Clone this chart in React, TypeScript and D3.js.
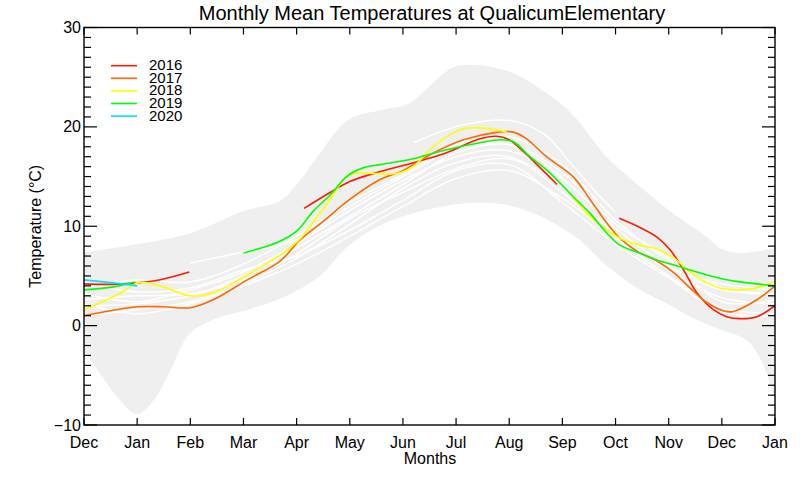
import React from 'react';
import * as d3 from 'd3';

type P = [number, number];

const monthLabels = ['Dec', 'Jan', 'Feb', 'Mar', 'Apr', 'May', 'Jun', 'Jul', 'Aug', 'Sep', 'Oct', 'Nov', 'Dec', 'Jan'];
const yMajorTicks = [-10, 0, 10, 20, 30];
const legendYears = ['2016', '2017', '2018', '2019', '2020'];
const legendColors = ['#ff1a00', '#ff6a00', '#ffff00', '#00ff00', '#00e0ff'];

// Grey envelope (min/max band)
const bandUpper: P[] = [[0, 7.4], [1, 8.2], [2, 9.3], [3, 11.5], [3.7, 12.6], [4.0, 14.2], [4.35, 16.7], [4.97, 20.7], [5.6, 21.7], [6.1, 22.3], [6.5, 24.1], [6.95, 26.0], [7.45, 26.2], [8.08, 25.4], [8.7, 23.4], [9.2, 21.2], [9.83, 17.0], [10.46, 14.0], [11.08, 11.3], [11.7, 9.0], [12.0, 7.7], [12.35, 7.3], [13, 7.8]];
const bandLower: P[] = [[0, -2.5], [0.3, -4.8], [0.6, -7.0], [0.99, -8.9], [1.3, -7.6], [1.6, -4.8], [1.99, -0.8], [2.43, 0.6], [3.07, 1.6], [3.69, 2.7], [4.0, 3.5], [4.44, 5.0], [4.97, 8.0], [5.5, 9.9], [6.19, 11.3], [7.13, 12.3], [7.77, 12.3], [8.2, 11.8], [8.7, 10.7], [9.33, 8.6], [9.84, 6.0], [10.46, 3.6], [11.08, 1.9], [11.4, 0.9], [11.97, -0.4], [12.47, -1.5], [12.75, -3.6], [13, -7.5]];

// Other years (white lines)
const white1: P[] = [[0, 2.6], [1, 3.0], [2, 3.2], [3, 4.6], [4, 7.2], [5, 10.8], [6, 13.4], [7, 15.8], [8, 16.8], [9, 14.0], [10, 9.2], [11, 5.6], [12, 2.8], [13, 2.2]];
const white2: P[] = [[0, 3.2], [1, 2.4], [2, 3.6], [3, 5.4], [4, 8.2], [5, 11.6], [6, 14.6], [7, 17.0], [8, 17.6], [9, 14.8], [10, 9.8], [11, 6.0], [12, 3.6], [13, 3.2]];
const white3: P[] = [[0, 1.0], [1, 1.6], [2, 2.4], [3, 4.2], [4, 6.8], [5, 10.2], [6, 13.8], [7, 16.4], [8, 17.0], [9, 13.4], [10, 8.8], [11, 5.0], [12, 1.8], [13, 1.2]];
const white4: P[] = [[0, 3.8], [1, 4.6], [2, 4.4], [3, 6.2], [4, 9.0], [5, 12.4], [6, 15.2], [7, 18.2], [8, 19.0], [9, 16.2], [10, 10.6], [11, 6.6], [12, 3.8], [13, 3.2]];
const white5: P[] = [[0, 2.0], [1, 2.2], [2, 3.0], [3, 5.0], [4, 7.8], [5, 11.0], [6, 14.2], [7, 17.4], [8, 18.2], [9, 15.4], [10, 10.2], [11, 6.8], [12, 2.4], [13, 2.6]];
const white6: P[] = [[2, 6.3], [3, 7.4], [4, 8.6], [5, 12.0], [6, 15.0], [7, 17.8], [8, 18.2], [9, 15.0]];
const white7: P[] = [[6.2, 18.4], [7.13, 20.2], [8.07, 20.6], [8.7, 19.1], [9.1, 16.7], [9.6, 13.6], [10, 11.4]];
const white8: P[] = [[0, 4.4], [1, 3.4], [2, 3.8], [3, 5.6], [4, 7.0], [5, 9.6], [6, 12.6], [7, 15.6], [8, 16.2], [9, 12.4], [10, 8.2], [11, 4.8], [12, 1.4], [13, 1.0]];
const white9: P[] = [[0, 2.2], [1, 1.2], [2, 2.2], [3, 4.0], [4, 6.2], [5, 9.0], [6, 12.0], [7, 14.8], [8, 15.6], [9, 12.8], [10, 9.0], [11, 5.8], [12, 4.2], [13, 3.6]];
const whiteSeries = [white1, white2, white3, white4, white5, white6, white7, white8, white9];

// Highlighted years
const y2016a: P[] = [[0, 4.2], [0.5, 4.15], [1, 4.3], [1.5, 4.7], [1.98, 5.4]];
const y2016b: P[] = [[4.14, 11.8], [4.63, 13.4], [5.0, 14.5], [5.57, 15.5], [6.2, 16.4], [6.82, 17.4], [7.45, 18.8], [7.76, 19.05], [8.0, 18.7], [8.27, 17.5], [8.58, 15.9], [8.9, 14.2]];
const y2016c: P[] = [[10.07, 10.8], [10.45, 9.9], [10.78, 8.9], [11.03, 7.6], [11.28, 5.6], [11.53, 3.3], [11.84, 1.6], [12.09, 0.9], [12.34, 0.7], [12.66, 0.9], [13, 2.0]];
const y2017: P[] = [[0, 1.0], [0.5, 1.5], [1, 1.9], [1.5, 1.9], [2, 1.8], [2.43, 2.6], [3.07, 4.6], [3.69, 6.5], [4.06, 8.6], [4.5, 10.5], [5, 12.7], [5.57, 14.7], [6, 15.6], [6.51, 17.2], [7.14, 18.7], [7.76, 19.45], [8.05, 19.5], [8.3, 18.9], [8.7, 17.0], [9.2, 15.0], [9.52, 12.7], [9.84, 10.3], [10.08, 8.8], [10.46, 7.3], [10.78, 6.5], [11.1, 5.3], [11.4, 3.8], [11.7, 2.4], [12.02, 1.5], [12.2, 1.4], [12.66, 2.6], [13, 4.0]];
const y2018a: P[] = [[0, 1.6], [0.55, 2.9], [0.87, 3.9], [1.0, 4.3], [1.18, 4.3], [1.49, 3.9], [2.0, 3.0], [2.43, 3.3], [3.07, 5.1], [3.69, 7.1], [4.06, 8.7], [4.35, 10.7], [4.63, 12.7], [4.94, 15.0], [5.13, 15.3], [5.57, 15.3], [5.88, 15.3], [6.19, 16.0], [6.51, 17.7], [6.82, 19.0], [7.14, 19.8], [7.45, 19.9], [7.76, 19.7], [7.95, 19.5]];
const y2018b: P[] = [[9.08, 13.7], [9.52, 11.0], [9.84, 9.6], [10.08, 8.8], [10.46, 8.1], [10.78, 7.7], [11.1, 6.8], [11.4, 5.4], [11.72, 4.3], [12.02, 3.7], [12.34, 3.6], [12.66, 3.8], [12.97, 4.4]];
const y2019a: P[] = [[0, 3.6], [0.55, 3.9], [0.95, 4.4]];
const y2019b: P[] = [[3.0, 7.3], [3.69, 8.5], [4.0, 9.5], [4.31, 11.5], [4.66, 13.3], [4.94, 15.0], [5.26, 15.9], [5.57, 16.2], [6.19, 16.8], [6.82, 17.7], [7.45, 18.4], [7.83, 18.7], [8.08, 18.5], [8.39, 17.0], [8.7, 15.7], [9.02, 14.0], [9.2, 13.0], [9.52, 11.3], [9.84, 9.3], [10.08, 8.1], [10.46, 7.3], [10.78, 6.6], [11.1, 6.1], [11.4, 5.6], [11.72, 5.1], [12.02, 4.7], [12.34, 4.4], [12.66, 4.2], [13, 4.0]];
const y2020: P[] = [[0, 4.6], [0.55, 4.3], [1.0, 4.0]];

const yearSegments: P[][][] = [
  [y2016a, y2016b, y2016c],
  [y2017],
  [y2018a, y2018b],
  [y2019a, y2019b],
  [y2020],
];

const W = 800;
const H = 480;
const L = 84, R = 775, T = 27.5, B = 425;
const FONT = "'Liberation Sans', Arial, Helvetica, sans-serif";

export default function App() {
  const x = d3.scaleLinear().domain([0, 13]).range([L, R]);
  const y = d3.scaleLinear().domain([-10, 30]).range([B, T]);
  const line = d3.line<P>().x(d => x(d[0])).y(d => y(d[1])).curve(d3.curveCatmullRom.alpha(0.5));

  const upperPath = line(bandUpper) || '';
  const lowerPath = (line([...bandLower].reverse()) || '').replace(/^M/, 'L');
  const bandPath = upperPath + lowerPath + 'Z';

  const yTicks = d3.range(-10, 31, 1);
  const xTicks = d3.range(0, 14, 1);

  return (
    <svg width={W} height={H} style={{ position: 'absolute', left: 0, top: 0, background: '#fff' }} fontFamily={FONT}>
      <defs>
        <clipPath id="plotclip">
          <rect x={L} y={T} width={R - L} height={B - T} />
        </clipPath>
      </defs>
      <rect x={0} y={0} width={W} height={H} fill="#fff" />
      <g clipPath="url(#plotclip)">
        <path d={bandPath} fill="#efefef" stroke="none" />
        {whiteSeries.map((s, i) => (
          <path key={'w' + i} d={line(s) || ''} fill="none" stroke="#ffffff" strokeWidth={1.5} />
        ))}
        {yearSegments.map((segs, i) =>
          segs.map((s, j) => (
            <path key={'y' + i + '-' + j} d={line(s) || ''} fill="none" stroke={legendColors[i]} strokeWidth={1.6} />
          ))
        )}
      </g>

      {/* frame */}
      <rect x={L} y={T} width={R - L} height={B - T} fill="none" stroke="#000" strokeWidth={1.4} />

      {/* x ticks */}
      {xTicks.map(t => (
        <g key={'xt' + t}>
          <line x1={x(t)} x2={x(t)} y1={B} y2={B - 7} stroke="#000" strokeWidth={1.2} />
          <line x1={x(t)} x2={x(t)} y1={T} y2={T + 7} stroke="#000" strokeWidth={1.2} />
          <text x={x(t)} y={448} fontSize={16} textAnchor="middle" fill="#000">{monthLabels[t]}</text>
        </g>
      ))}

      {/* y ticks */}
      {yTicks.map(t => {
        const len = t % 10 === 0 ? 13 : 7;
        return (
          <g key={'yt' + t}>
            <line x1={L} x2={L + len} y1={y(t)} y2={y(t)} stroke="#000" strokeWidth={1.2} />
            <line x1={R} x2={R - len} y1={y(t)} y2={y(t)} stroke="#000" strokeWidth={1.2} />
          </g>
        );
      })}
      {yMajorTicks.map(t => (
        <text key={'yl' + t} x={81} y={y(t) + 5.5} fontSize={16} textAnchor="end" fill="#000">
          {t < 0 ? '\u2212' + Math.abs(t) : String(t)}
        </text>
      ))}

      {/* titles */}
      <text x={432} y={20} fontSize={20} textAnchor="middle" fill="#000">Monthly Mean Temperatures at QualicumElementary</text>
      <text x={430} y={464} fontSize={16} textAnchor="middle" fill="#000">Months</text>
      <text transform={`translate(41,${(T + B) / 2}) rotate(-90)`} fontSize={16} textAnchor="middle" fill="#000">Temperature (°C)</text>

      {/* legend */}
      {legendYears.map((yr, i) => {
        const ly = 65.7 + i * 12.6;
        return (
          <g key={'lg' + yr}>
            <line x1={111} x2={137} y1={ly} y2={ly} stroke={legendColors[i]} strokeWidth={1.6} />
            <text x={149} y={ly + 4.5} fontSize={15} fill="#000">{yr}</text>
          </g>
        );
      })}
    </svg>
  );
}
